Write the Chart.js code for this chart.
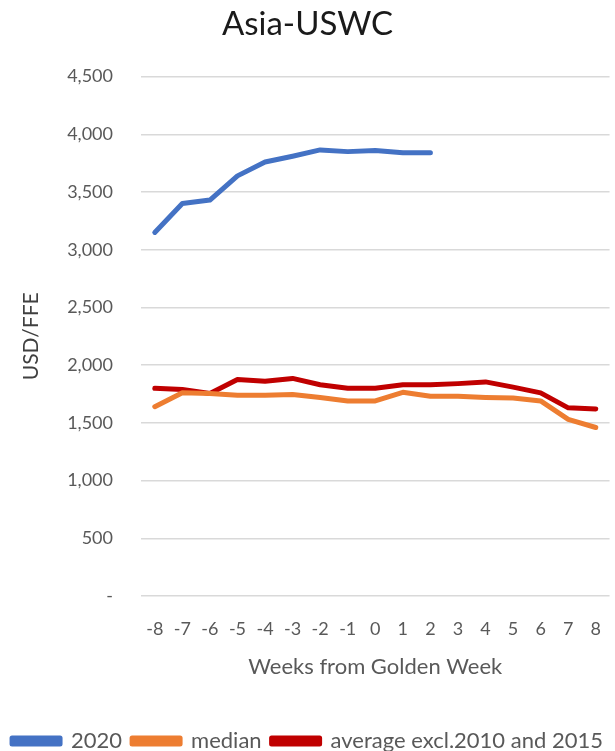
<!DOCTYPE html>
<html>
<head>
<meta charset="utf-8">
<script src="https://cdn.jsdelivr.net/npm/chart.js@4.4.1/dist/chart.umd.min.js"></script>
<style>
  html, body { margin: 0; padding: 0; background: #fff; }
  #wrap { width: 615px; height: 751px; position: relative; }
</style>
</head>
<body>
<div id="wrap"><canvas id="rateChart"></canvas></div>
<script>
const weeks = ['-8', '-7', '-6', '-5', '-4', '-3', '-2', '-1', '0', '1', '2', '3', '4', '5', '6', '7', '8'];
const rates2020 = [3150, 3400, 3430, 3640, 3760, 3810, 3865, 3850, 3860, 3840, 3840];
const medianRates = [1640, 1760, 1755, 1740, 1740, 1745, 1720, 1690, 1690, 1765, 1730, 1730, 1720, 1715, 1690, 1530, 1460];
const avgRates = [1800, 1790, 1755, 1875, 1860, 1885, 1830, 1800, 1800, 1830, 1830, 1840, 1855, 1810, 1760, 1630, 1620];

const FONT = 'Lato, "Noto Sans", sans-serif';
const tickGrey = '#595959';

function line(label, data, color) {
    return {
        label: label, data: data,
        borderColor: color, backgroundColor: color,
        borderWidth: 5, pointRadius: 0, tension: 0,
        borderCapStyle: 'round', borderJoinStyle: 'round'
    };
}

new Chart(document.getElementById('rateChart').getContext('2d'), {
    type: 'line',
    data: {
        labels: weeks,
        datasets: [
            line('2020', rates2020, '#4472C4'),
            line('median', medianRates, '#ED7D31'),
            line('average excl.2010 and 2015', avgRates, '#C00000')
        ]
    },
    options: {
        responsive: true, maintainAspectRatio: false, animation: false,
        layout: { padding: { left: 0, right: 0, top: 0, bottom: -11 } },
        plugins: {
            title: { display: true, text: 'Asia-USWC', color: '#1a1a1a',
                font: { family: FONT, size: 33, weight: 'normal' }, padding: { top: 5, bottom: 32 } },
            legend: { position: 'bottom',
                labels: { color: tickGrey, font: { family: FONT, size: 22 },
                    boxWidth: 48, boxHeight: 6, padding: 10 } },
            tooltip: { enabled: false }
        },
        scales: {
            x: {
                offset: true,
                grid: { display: false },
                border: { display: false },
                ticks: { color: tickGrey, font: { family: FONT, size: 18 }, padding: 14, maxRotation: 0 },
                title: { display: true, text: 'Weeks from Golden Week', color: tickGrey,
                    font: { family: FONT, size: 22 }, padding: { top: 0, bottom: 40 } }
            },
            y: {
                min: 0, max: 4500,
                grid: { color: '#D9D9D9', lineWidth: 1.5, drawTicks: false },
                border: { display: false },
                ticks: { stepSize: 500, color: tickGrey, font: { family: FONT, size: 18 }, padding: 28,
                    callback: v => v === 0 ? '-' : v.toLocaleString('en-US') },
                title: { display: true, text: 'USD/FFE', color: '#404040',
                    font: { family: FONT, size: 21 }, padding: { top: 19, bottom: 10 } },
                afterFit: scale => { scale.width = 141; }
            }
        }
    }
});
</script>
</body>
</html>
